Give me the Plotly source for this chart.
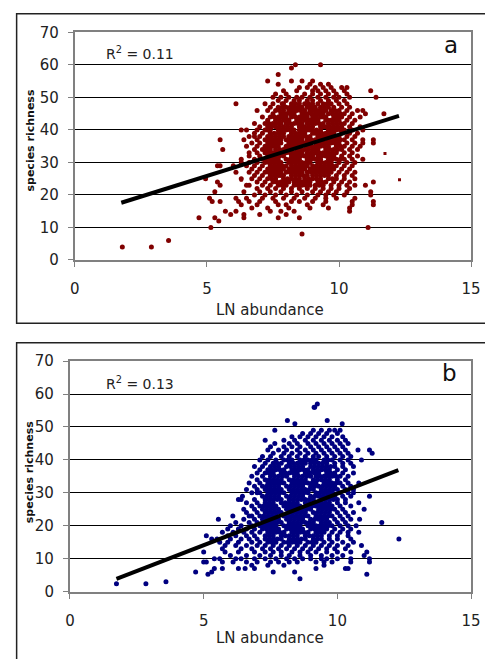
import plotly.graph_objects as go

# ---------------- data ----------------
# panel a: species richness rows (y) with LN abundance values (x)
a_rows = [
    (60, [8.35, 9.3]), (59, [8.2]), (57, [7.7]),
    (55, [7.3, 8.2, 8.6, 9.0]),
    (54, [7.7, 8.9, 9.3, 9.6]),
    (53, [8.5, 8.8, 9.1, 9.4, 9.7, 10.1, 10.3]),
    (52, [7.9, 8.4, 9.0, 9.2, 9.5, 9.8, 10.2, 11.2]),
    (51, [7.6, 8.0, 8.7, 9.0, 9.3, 9.6, 9.9, 10.3]),
    (50, [7.5, 7.8, 8.1, 8.4, 8.6, 8.9, 9.2, 9.5, 9.8, 10.0, 10.4, 11.4]),
    (49, [7.7, 8.0, 8.3, 8.5, 8.8, 9.0, 9.3, 9.6, 9.9, 10.2]),
    (48, [6.1, 7.2, 7.5, 7.9, 8.2, 8.5, 8.7, 9.0, 9.2, 9.4, 9.7, 10.0, 10.3]),
    (47, [7.4, 7.7, 8.0, 8.3, 8.6, 8.8, 9.1, 9.3, 9.6, 9.8, 10.1, 10.4]),
    (46, [6.9, 7.3, 7.6, 7.9, 8.1, 8.4, 8.7, 8.9, 9.2, 9.5, 9.7, 10.0, 10.3, 10.7, 10.9]),
    (45, [7.5, 7.8, 8.0, 8.3, 8.6, 8.8, 9.1, 9.4, 9.6, 9.9, 10.2, 10.5, 11.0, 11.7]),
    (44, [7.1, 7.4, 7.7, 8.0, 8.2, 8.5, 8.8, 9.0, 9.3, 9.5, 9.8, 10.1, 10.4, 10.8]),
    (43, [7.3, 7.6, 7.9, 8.1, 8.4, 8.7, 8.9, 9.2, 9.5, 9.7, 10.0, 10.3, 10.6]),
    (42, [6.8, 7.2, 7.5, 7.8, 8.0, 8.3, 8.6, 8.8, 9.1, 9.4, 9.6, 9.9, 10.2, 10.5]),
    (41, [7.0, 7.3, 7.6, 7.9, 8.2, 8.5, 8.7, 9.0, 9.3, 9.5, 9.8, 10.1, 10.4, 10.8]),
    (40, [6.3, 6.5, 6.9, 7.2, 7.4, 7.7, 8.0, 8.3, 8.5, 8.8, 9.0, 9.3, 9.6, 9.9, 10.2, 10.5, 10.9]),
    (39, [6.8, 7.1, 7.4, 7.7, 7.9, 8.2, 8.5, 8.7, 9.0, 9.2, 9.5, 9.8, 10.1, 10.4, 10.7]),
    (38, [6.6, 6.8, 7.0, 7.3, 7.6, 7.9, 8.1, 8.4, 8.6, 8.9, 9.2, 9.4, 9.7, 10.0, 10.3, 10.6]),
    (37, [5.5, 6.4, 6.9, 7.2, 7.5, 7.8, 8.0, 8.3, 8.6, 8.8, 9.1, 9.4, 9.6, 9.9, 10.2, 10.5, 10.9, 11.3]),
    (36, [6.7, 7.0, 7.3, 7.6, 7.8, 8.1, 8.4, 8.7, 8.9, 9.2, 9.5, 9.7, 10.0, 10.3, 10.6, 10.9, 11.3]),
    (35, [6.5, 6.9, 7.2, 7.5, 7.7, 8.0, 8.3, 8.5, 8.8, 9.1, 9.3, 9.6, 9.9, 10.2, 10.5, 10.8]),
    (34, [5.6, 6.8, 7.1, 7.4, 7.6, 7.9, 8.2, 8.4, 8.7, 9.0, 9.2, 9.5, 9.8, 10.1, 10.4, 10.7]),
    (33, [6.6, 6.9, 7.2, 7.5, 7.8, 8.0, 8.3, 8.6, 8.8, 9.1, 9.4, 9.6, 9.9, 10.2, 10.5]),
    (32, [6.6, 7.0, 7.3, 7.6, 7.9, 8.2, 8.4, 8.7, 9.0, 9.2, 9.5, 9.8, 10.1, 10.4, 10.7]),
    (31, [6.3, 6.8, 7.1, 7.4, 7.7, 8.0, 8.3, 8.5, 8.8, 9.1, 9.3, 9.6, 9.9, 10.2, 10.5, 10.9]),
    (30, [6.3, 6.6, 6.9, 7.2, 7.5, 7.8, 8.1, 8.4, 8.6, 8.9, 9.2, 9.5, 9.7, 10.0, 10.3, 10.6]),
    (29, [5.4, 5.5, 6.0, 6.5, 6.8, 7.1, 7.4, 7.7, 8.0, 8.2, 8.5, 8.8, 9.0, 9.3, 9.6, 9.9, 10.2, 10.5]),
    (28, [6.7, 7.0, 7.3, 7.6, 7.9, 8.1, 8.4, 8.7, 8.9, 9.2, 9.5, 9.8, 10.1, 10.4]),
    (27, [6.1, 6.6, 6.9, 7.2, 7.5, 7.8, 8.0, 8.3, 8.6, 8.8, 9.1, 9.4, 9.7, 10.0, 10.3, 10.6]),
    (26, [6.8, 7.1, 7.4, 7.7, 7.9, 8.2, 8.5, 8.8, 9.0, 9.3, 9.6, 9.9, 10.2, 10.5]),
    (25, [4.95, 6.3, 6.7, 7.0, 7.3, 7.6, 7.9, 8.2, 8.5, 8.7, 9.0, 9.3, 9.6, 9.9, 10.2, 10.6]),
    (24, [5.4, 6.9, 7.2, 7.5, 7.8, 8.1, 8.3, 8.6, 8.9, 9.2, 9.5, 9.8, 10.1, 10.4, 11.3]),
    (23, [5.5, 6.5, 6.6, 7.1, 7.4, 7.7, 8.0, 8.3, 8.6, 8.9, 9.1, 9.4, 9.7, 10.0, 10.3, 10.6, 11.0]),
    (22, [6.9, 7.3, 7.6, 7.9, 8.2, 8.5, 8.8, 9.1, 9.4, 9.7, 10.0, 10.4]),
    (21, [5.3, 6.4, 7.0, 7.4, 7.8, 8.2, 8.6, 9.0, 9.3, 9.6, 9.9, 10.3, 11.2]),
    (20, [6.8, 7.2, 7.6, 8.0, 8.4, 8.8, 9.2, 9.5, 9.8, 10.2, 11.2]),
    (19, [5.1, 6.1, 6.5, 7.1, 7.5, 7.9, 8.3, 8.7, 9.1, 9.5, 9.9, 10.6]),
    (18, [5.2, 5.5, 6.2, 6.6, 7.0, 7.6, 8.2, 8.5, 9.0, 9.5, 10.5, 11.3]),
    (17, [6.3, 6.9, 7.7, 8.0, 8.8, 9.4, 10.5, 11.3]),
    (16, [6.7, 7.3, 8.1, 8.9, 9.6, 10.4]),
    (15, [5.7, 6.1, 7.4, 7.8, 8.3, 10.4]),
    (14, [5.9, 6.4, 7.0, 8.0]),
    (13, [4.7, 5.3, 6.4, 7.7, 8.5]),
    (12, [5.45]),
    (10, [5.15, 11.1]),
    (8, [8.6]),
    (6, [3.55]),
    (4, [1.8, 2.9]),
]
# panel a: further points inside the dense core
a_core_rows = [
    (48, [7.85, 8.35, 8.85, 9.55]),
    (47, [7.85, 8.15, 8.45, 8.95, 9.45]),
    (46, [7.75, 8.25, 8.55, 9.05, 9.35, 9.85]),
    (45, [7.9, 8.15, 8.7, 8.95, 9.25, 9.75, 10.05]),
    (44, [7.55, 7.85, 8.35, 8.65, 9.15, 9.4, 9.95]),
    (43, [7.75, 8.0, 8.55, 8.8, 9.05, 9.6, 9.85]),
    (42, [7.35, 7.65, 8.15, 8.45, 8.95, 9.25, 9.75, 10.05]),
    (41, [7.45, 7.75, 8.05, 8.6, 8.85, 9.4, 9.65, 9.95]),
    (40, [7.3, 7.85, 8.15, 8.65, 8.9, 9.15, 9.75, 10.05]),
    (39, [7.55, 7.8, 8.35, 8.6, 9.1, 9.35, 9.65]),
    (38, [7.45, 7.75, 8.25, 8.5, 8.75, 9.3, 9.55, 9.85]),
    (37, [7.35, 7.65, 8.15, 8.45, 8.95, 9.25, 9.75, 10.05]),
    (36, [7.45, 7.7, 8.25, 8.55, 8.8, 9.35, 9.6, 9.85]),
    (35, [7.35, 7.6, 8.15, 8.4, 8.95, 9.2, 9.45, 10.05]),
    (34, [7.25, 7.75, 8.05, 8.55, 8.85, 9.1, 9.65, 9.95]),
    (33, [7.35, 7.65, 8.15, 8.45, 8.95, 9.25, 9.5, 9.75]),
    (32, [7.45, 7.75, 8.3, 8.55, 8.85, 9.35, 9.65]),
    (31, [7.25, 7.55, 8.15, 8.4, 8.95, 9.2, 9.75, 10.05]),
    (30, [7.35, 7.65, 8.25, 8.5, 8.75, 9.35, 9.6]),
    (29, [7.55, 7.85, 8.35, 8.65, 9.15, 9.45, 9.75]),
    (28, [7.45, 7.75, 8.25, 8.55, 9.05, 9.35, 9.65]),
    (27, [7.35, 7.65, 8.15, 8.45, 8.95, 9.25, 9.55]),
    (26, [7.55, 7.8, 8.35, 8.65, 9.15, 9.45]),
    (25, [7.45, 8.05, 8.35, 8.85, 9.15, 9.75]),
    (24, [7.65, 7.95, 8.45, 8.75, 9.35]),
    (23, [7.85, 8.45, 8.75, 9.25]),
]
a_small_x = [11.74, 12.29, 6.3]
a_small_y = [32.7, 24.7, 24.5]
a_trend_x = [1.76, 12.27]
a_trend_y = [17.6, 44.3]

# panel b
b_rows = [
    (57, [9.25]), (56, [9.15, 9.13]),
    (52, [8.13, 9.62]), (51, [8.41, 10.18]),
    (49, [7.66, 9.1, 9.4, 9.7, 9.9, 10.1]),
    (48, [8.7, 9.0, 9.3, 9.6, 10.0]),
    (47, [8.3, 8.6, 8.9, 9.2, 9.5, 9.8, 10.2]),
    (46, [7.3, 8.0, 8.4, 8.8, 9.1, 9.4, 9.7, 10.0, 10.3]),
    (45, [7.66, 8.2, 8.5, 8.9, 9.2, 9.5, 9.8, 10.1, 10.4]),
    (44, [7.5, 8.0, 8.3, 8.6, 9.0, 9.3, 9.6, 9.9, 10.2]),
    (43, [7.4, 7.8, 8.1, 8.5, 8.8, 9.1, 9.4, 9.7, 10.0, 10.3, 10.77, 11.2]),
    (42, [7.6, 8.0, 8.3, 8.6, 8.9, 9.2, 9.5, 9.8, 10.1, 10.4, 11.3]),
    (41, [7.2, 7.5, 7.9, 8.2, 8.5, 8.8, 9.1, 9.3, 9.6, 9.9, 10.2, 10.5]),
    (40, [7.1, 7.4, 7.7, 8.0, 8.3, 8.6, 8.9, 9.2, 9.5, 9.8, 10.1, 10.4, 10.9]),
    (39, [7.3, 7.6, 7.9, 8.2, 8.5, 8.8, 9.0, 9.3, 9.6, 9.9, 10.2, 10.5]),
    (38, [6.9, 7.2, 7.5, 7.8, 8.1, 8.4, 8.7, 9.0, 9.3, 9.6, 9.9, 10.2, 10.6]),
    (37, [7.1, 7.4, 7.7, 8.0, 8.3, 8.6, 8.9, 9.1, 9.4, 9.7, 10.0, 10.3]),
    (36, [7.0, 7.3, 7.6, 7.9, 8.2, 8.5, 8.8, 9.0, 9.3, 9.6, 9.9, 10.2, 10.6]),
    (35, [6.8, 7.2, 7.5, 7.8, 8.1, 8.4, 8.7, 9.0, 9.2, 9.5, 9.8, 10.1, 10.4]),
    (34, [7.0, 7.3, 7.6, 7.9, 8.2, 8.5, 8.8, 9.1, 9.4, 9.7, 10.0, 10.3]),
    (33, [6.7, 7.1, 7.4, 7.7, 8.0, 8.3, 8.6, 8.9, 9.2, 9.5, 9.8, 10.1, 10.4, 10.8]),
    (32, [6.9, 7.2, 7.5, 7.8, 8.1, 8.4, 8.7, 9.0, 9.3, 9.6, 9.9, 10.2, 10.5]),
    (31, [6.6, 7.0, 7.3, 7.6, 7.9, 8.2, 8.5, 8.8, 9.1, 9.4, 9.7, 10.0, 10.3, 10.6]),
    (30, [7.0, 6.8, 7.1, 7.4, 7.7, 8.0, 8.3, 8.6, 8.9, 9.2, 9.5, 9.8, 10.1, 10.4, 10.6]),
    (29, [6.45, 7.2, 7.5, 7.8, 8.1, 8.4, 8.7, 9.0, 9.3, 9.6, 9.9, 10.2, 10.5, 11.2]),
    (28, [6.3, 6.4, 6.9, 7.3, 7.6, 7.9, 8.2, 8.5, 8.8, 9.1, 9.4, 9.7, 10.0, 10.3]),
    (27, [6.6, 7.0, 7.3, 7.6, 7.9, 8.2, 8.5, 8.8, 9.1, 9.4, 9.7, 10.0, 10.3, 10.8]),
    (26, [6.8, 7.1, 7.4, 7.7, 8.0, 8.3, 8.6, 8.9, 9.2, 9.5, 9.8, 10.1, 10.5]),
    (25, [6.5, 6.9, 7.2, 7.5, 7.8, 8.1, 8.4, 8.7, 9.0, 9.3, 9.6, 9.9, 10.2, 11.0]),
    (24, [6.6, 7.0, 7.3, 7.6, 7.9, 8.2, 8.5, 8.8, 9.1, 9.4, 9.7, 10.0, 10.3, 10.6]),
    (23, [6.09, 6.7, 6.8, 7.1, 7.4, 7.7, 8.0, 8.3, 8.6, 8.9, 9.2, 9.5, 9.8, 10.1, 10.4]),
    (22, [5.55, 6.5, 6.9, 7.2, 7.5, 7.8, 8.1, 8.4, 8.7, 9.0, 9.3, 9.6, 9.9, 10.2, 10.5, 10.83]),
    (21, [6.2, 6.7, 7.0, 7.3, 7.6, 7.9, 8.2, 8.5, 8.8, 9.1, 9.4, 9.7, 10.0, 10.3, 11.66]),
    (20, [6.0, 6.4, 6.8, 7.1, 7.4, 7.7, 8.0, 8.3, 8.6, 8.9, 9.2, 9.5, 9.8, 10.1, 10.4, 10.7]),
    (19, [5.9, 6.3, 6.6, 6.9, 7.2, 7.5, 7.8, 8.1, 8.4, 8.7, 9.0, 9.3, 9.6, 9.9, 10.2, 10.5]),
    (18, [5.7, 6.1, 6.5, 6.8, 7.1, 7.4, 7.7, 8.0, 8.3, 8.6, 8.9, 9.2, 9.5, 9.8, 10.1, 10.4, 10.8]),
    (17, [5.1, 5.9, 6.2, 6.6, 6.9, 7.3, 7.6, 7.9, 8.2, 8.5, 8.8, 9.1, 9.4, 9.7, 10.0, 10.4]),
    (16, [5.3, 5.5, 6.0, 6.4, 6.7, 7.0, 7.3, 7.6, 7.9, 8.2, 8.5, 8.8, 9.1, 9.4, 9.7, 10.0, 10.5, 12.3]),
    (15, [5.6, 5.9, 6.3, 6.8, 7.1, 7.4, 7.7, 8.0, 8.3, 8.6, 8.9, 9.2, 9.5, 9.8, 10.2, 10.6]),
    (14, [5.8, 6.2, 6.6, 7.0, 7.3, 7.6, 7.9, 8.2, 8.5, 8.8, 9.1, 9.4, 9.7, 10.0, 10.4, 10.9]),
    (13, [5.7, 6.4, 6.8, 7.2, 7.5, 7.8, 8.1, 8.4, 8.7, 9.0, 9.3, 9.6, 9.9, 10.3]),
    (12, [5.0, 5.8, 6.3, 6.9, 7.3, 7.6, 7.9, 8.3, 8.6, 8.9, 9.2, 9.6, 10.0, 10.5, 11.1]),
    (11, [6.0, 6.6, 7.1, 7.5, 7.9, 8.2, 8.6, 9.0, 9.4, 9.8, 10.2, 11.0]),
    (10, [5.4, 5.6, 6.2, 6.4, 6.9, 7.3, 7.7, 8.1, 8.4, 8.7, 9.0, 9.4, 9.6, 10.0, 10.5, 11.2]),
    (9, [5.0, 5.1, 5.7, 6.1, 6.6, 7.0, 7.5, 7.8, 8.2, 8.5, 9.2, 9.5, 9.8, 10.5, 11.2]),
    (8, [6.8, 7.4, 8.0, 9.5]),
    (7, [5.4, 5.7, 6.3, 6.55, 6.9, 9.2, 10.3, 10.4]),
    (6, [4.7, 5.3, 7.6, 8.4]),
    (5.3, [5.16, 11.1]),
    (3.9, [8.6]),
    (3.0, [3.59]),
    (2.4, [1.74, 2.84]),
]
# panel b: further points inside the dense core
b_core_rows = [
    (40, [8.15, 8.75, 9.05, 9.65]),
    (39, [7.75, 8.35, 8.65, 9.15, 9.45]),
    (38, [7.65, 8.25, 8.55, 9.15, 9.45, 9.75]),
    (37, [7.55, 7.85, 8.45, 8.75, 9.25, 9.55]),
    (36, [7.45, 8.05, 8.35, 8.9, 9.15, 9.75]),
    (35, [7.65, 7.95, 8.55, 8.85, 9.35, 9.65, 9.95]),
    (34, [7.45, 7.75, 8.35, 8.65, 9.25, 9.55]),
    (33, [7.55, 7.85, 8.45, 8.75, 9.05, 9.65, 9.95]),
    (32, [7.35, 7.65, 8.25, 8.55, 9.15, 9.45, 9.75]),
    (31, [7.45, 7.75, 8.35, 8.65, 8.95, 9.55, 9.85]),
    (30, [7.55, 7.85, 8.45, 8.75, 9.35, 9.65]),
    (29, [7.35, 7.65, 8.25, 8.55, 9.15, 9.45, 9.75]),
    (28, [7.45, 7.75, 8.35, 8.65, 8.95, 9.55, 9.85]),
    (27, [7.45, 8.05, 8.35, 8.95, 9.25, 9.55]),
    (26, [7.25, 7.55, 8.15, 8.45, 9.05, 9.35, 9.65]),
    (25, [7.35, 7.65, 8.25, 8.55, 8.85, 9.45, 9.75]),
    (24, [7.45, 7.75, 8.35, 8.65, 9.25, 9.55]),
    (23, [7.25, 7.55, 8.15, 8.45, 8.75, 9.35, 9.65]),
    (22, [7.35, 7.65, 8.25, 8.55, 9.15, 9.45]),
    (21, [7.45, 7.75, 8.35, 8.65, 8.95, 9.55]),
    (20, [7.25, 7.55, 8.15, 8.45, 9.05, 9.35, 9.65]),
    (19, [7.35, 7.65, 8.25, 8.55, 9.15, 9.45]),
    (18, [7.55, 7.85, 8.45, 8.75, 9.35]),
    (17, [7.45, 8.05, 8.35, 8.95, 9.25]),
    (16, [7.45, 7.75, 8.35, 8.65, 9.25]),
    (15, [7.55, 8.15, 8.45, 9.05]),
]
b_trend_x = [1.74, 12.28]
b_trend_y = [3.9, 36.9]

x_ticks = [0, 5, 10, 15]
y_ticks = [0, 10, 20, 30, 40, 50, 60, 70]

a_x = [x for y, xs in a_rows + a_core_rows for x in xs]
a_y = [y for y, xs in a_rows + a_core_rows for x in xs]
b_x = [x for y, xs in b_rows + b_core_rows for x in xs]
b_y = [y for y, xs in b_rows + b_core_rows for x in xs]

# ---------------- figure ----------------
W, H = 485, 659
FONT = "DejaVu Sans"

fig = go.Figure()
fig.add_trace(go.Scatter(x=a_x, y=a_y, mode="markers", xaxis="x", yaxis="y",
                         marker=dict(color="#800000", size=5, line=dict(width=0))))
fig.add_trace(go.Scatter(x=a_small_x, y=a_small_y, mode="markers", xaxis="x", yaxis="y",
                         marker=dict(color="#800000", size=3, symbol="square", line=dict(width=0))))
fig.add_trace(go.Scatter(x=a_trend_x, y=a_trend_y, mode="lines", xaxis="x", yaxis="y",
                         line=dict(color="black", width=4)))
fig.add_trace(go.Scatter(x=b_x, y=b_y, mode="markers", xaxis="x2", yaxis="y2",
                         marker=dict(color="#000080", size=5, line=dict(width=0))))
fig.add_trace(go.Scatter(x=b_trend_x, y=b_trend_y, mode="lines", xaxis="x2", yaxis="y2",
                         line=dict(color="black", width=4)))

def px(v):
    return v / W

def py(v):
    return 1 - v / H

xax = dict(range=[0, 15], tickvals=x_ticks, ticks="outside", ticklen=5, tickcolor="#808080",
           tickwidth=1, showline=True, linecolor="#808080", linewidth=2, mirror=True,
           showgrid=False, zeroline=False, fixedrange=True, ticklabelstandoff=9,
           ticklabeloverflow="allow",
           tickfont=dict(family=FONT, size=15, color="#222"))
yax = dict(range=[0, 70], tickvals=y_ticks, ticks="outside", ticklen=5, tickcolor="#808080",
           tickwidth=1, showline=True, linecolor="#808080", linewidth=2, mirror=True,
           showgrid=True, gridcolor="#000000", gridwidth=1, zeroline=False, fixedrange=True,
           ticklabelstandoff=6, ticklabeloverflow="allow",
           tickfont=dict(family=FONT, size=15, color="#222"))

fig.update_layout(
    width=W, height=H, margin=dict(l=0, r=0, t=0, b=0),
    paper_bgcolor="white", plot_bgcolor="white", showlegend=False,
    xaxis=dict(xax, domain=[px(72), px(481)], anchor="y"),
    yaxis=dict(yax, domain=[py(258), py(24)], anchor="x"),
    xaxis2=dict(xax, domain=[px(67), px(481)], anchor="y2"),
    yaxis2=dict(yax, domain=[py(599), py(362)], anchor="x2"),
    shapes=[
        dict(type="rect", xref="paper", yref="paper", x0=px(12), x1=1.05, y0=py(323), y1=py(5),
             line=dict(color="#222", width=1.5), layer="below"),
        dict(type="rect", xref="paper", yref="paper", x0=px(12), x1=1.05, y0=-0.05, y1=py(343),
             line=dict(color="#222", width=1.5), layer="below"),
    ],
    annotations=[
        dict(text="R<sup>2</sup> = 0.11", xref="paper", yref="paper", x=px(102), y=py(45),
             xanchor="left", yanchor="middle", showarrow=False, font=dict(family=FONT, size=14, color="#222")),
        dict(text="a", xref="paper", yref="paper", x=px(460), y=py(37),
             xanchor="center", yanchor="middle", showarrow=False, font=dict(family=FONT, size=23, color="#111")),
        dict(text="LN abundance", xref="paper", yref="paper", x=px(273), y=py(309),
             xanchor="center", yanchor="middle", showarrow=False, font=dict(family=FONT, size=15, color="#222")),
        dict(text="<b>species richness</b>", xref="paper", yref="paper", x=px(26), y=py(135),
             xanchor="center", yanchor="middle", textangle=-90, showarrow=False,
             font=dict(family=FONT, size=11, color="#111")),
        dict(text="R<sup>2</sup> = 0.13", xref="paper", yref="paper", x=px(102), y=py(385),
             xanchor="left", yanchor="middle", showarrow=False, font=dict(family=FONT, size=14, color="#222")),
        dict(text="b", xref="paper", yref="paper", x=px(459), y=py(374),
             xanchor="center", yanchor="middle", showarrow=False, font=dict(family=FONT, size=23, color="#111")),
        dict(text="LN abundance", xref="paper", yref="paper", x=px(273), y=py(647),
             xanchor="center", yanchor="middle", showarrow=False, font=dict(family=FONT, size=15, color="#222")),
        dict(text="<b>species richness</b>", xref="paper", yref="paper", x=px(26), y=py(476),
             xanchor="center", yanchor="middle", textangle=-90, showarrow=False,
             font=dict(family=FONT, size=11, color="#111")),
    ],
)

fig.write_html("out.html")
